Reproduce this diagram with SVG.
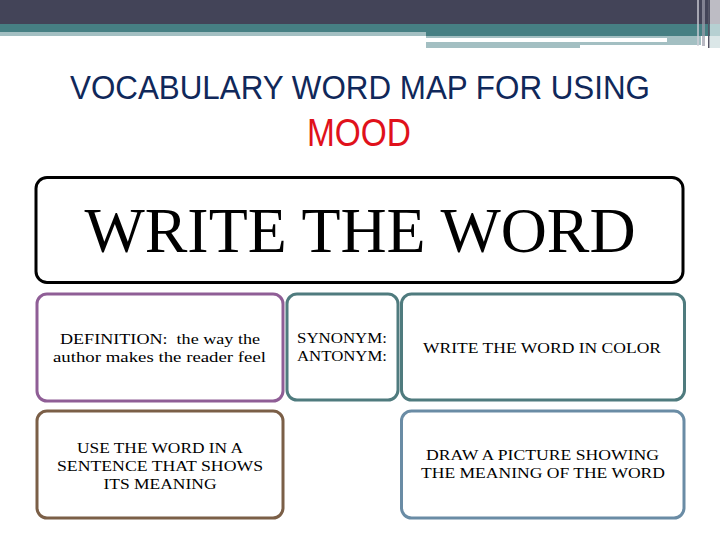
<svg xmlns="http://www.w3.org/2000/svg" width="720" height="540" viewBox="0 0 720 540">
<style>
.box{fill:#fff;stroke-width:3}
.t{font-family:"Liberation Serif","Times New Roman",serif;font-size:15.5px;fill:#000;text-anchor:middle}
</style>
<rect width="720" height="540" fill="#fff"/>
<g id="header">
<rect x="0" y="0" width="720" height="24" fill="#434458"/>
<rect x="0" y="24" width="720" height="8" fill="#467f83"/>
<rect x="0" y="32" width="426" height="4" fill="#a3bfc2"/>
<rect x="426" y="32" width="284" height="4" fill="#467f83"/>
<rect x="426" y="36" width="274" height="2" fill="#a3bfc2"/>
<rect x="426" y="42" width="154" height="6" fill="#a3bfc2"/>
<rect x="580" y="42" width="87" height="3" fill="#a3bfc2"/>
<rect x="667" y="36" width="34" height="9" fill="#a3bfc2"/>
<rect x="697" y="0" width="2" height="46" fill="#d0d0d8" opacity="0.7"/>
<rect x="702" y="0" width="3" height="46" fill="#9c9cab" opacity="0.7"/>
<rect x="708" y="0" width="1.5" height="48" fill="#555566"/>
<rect x="710" y="0" width="10" height="24" fill="#bdbcc4"/>
<rect x="710" y="24" width="10" height="12" fill="#b6d0d2"/>
<rect x="710" y="36" width="10" height="12" fill="#dbe7e8"/>
</g>
<g id="title">
<text x="360" y="99" text-anchor="middle" font-family="'Liberation Sans',Arial,sans-serif" font-size="34" fill="#10285a" textLength="580" lengthAdjust="spacingAndGlyphs">VOCABULARY WORD MAP FOR USING</text>
<text x="359" y="146" text-anchor="middle" font-family="'Liberation Sans',Arial,sans-serif" font-size="38" fill="#e0111b" textLength="104" lengthAdjust="spacingAndGlyphs">MOOD</text>
</g>
<g id="node-word">
<rect class="box" x="36" y="177.5" width="647" height="105" rx="11" stroke="#000"/>
<text x="360" y="252" text-anchor="middle" font-family="'Liberation Serif','Times New Roman',serif" font-size="64" fill="#000" textLength="551" lengthAdjust="spacingAndGlyphs">WRITE THE WORD</text>
</g>
<g id="node-definition">
<rect class="box" x="37" y="294" width="246" height="107" rx="10" stroke="#8f5e96"/>
<text class="t" x="160" y="344" textLength="200" lengthAdjust="spacingAndGlyphs" xml:space="preserve">DEFINITION:  the way the</text>
<text class="t" x="159.5" y="362" textLength="213" lengthAdjust="spacingAndGlyphs">author makes the reader feel</text>
</g>
<g id="node-synonym">
<rect class="box" x="287" y="294" width="111" height="106" rx="10" stroke="#4f7b7e"/>
<text class="t" x="342" y="343" textLength="90" lengthAdjust="spacingAndGlyphs">SYNONYM:</text>
<text class="t" x="342" y="361" textLength="90" lengthAdjust="spacingAndGlyphs">ANTONYM:</text>
</g>
<g id="node-color">
<rect class="box" x="401.5" y="294" width="283" height="106" rx="10" stroke="#4f7b7e"/>
<text class="t" x="542" y="353" textLength="238" lengthAdjust="spacingAndGlyphs">WRITE THE WORD IN COLOR</text>
</g>
<g id="node-sentence">
<rect class="box" x="37" y="411" width="246" height="107" rx="10" stroke="#7b5f47"/>
<text class="t" x="160" y="453" textLength="166" lengthAdjust="spacingAndGlyphs">USE THE WORD IN A</text>
<text class="t" x="160" y="471" textLength="206" lengthAdjust="spacingAndGlyphs">SENTENCE THAT SHOWS</text>
<text class="t" x="160" y="489" textLength="113" lengthAdjust="spacingAndGlyphs">ITS MEANING</text>
</g>
<g id="node-picture">
<rect class="box" x="401.5" y="411" width="282.5" height="107" rx="10" stroke="#6a8ca5"/>
<text class="t" x="542.5" y="460" textLength="233" lengthAdjust="spacingAndGlyphs">DRAW A PICTURE SHOWING</text>
<text class="t" x="543" y="478" textLength="244" lengthAdjust="spacingAndGlyphs">THE MEANING OF THE WORD</text>
</g>
<g id="connectors"></g>
</svg>
